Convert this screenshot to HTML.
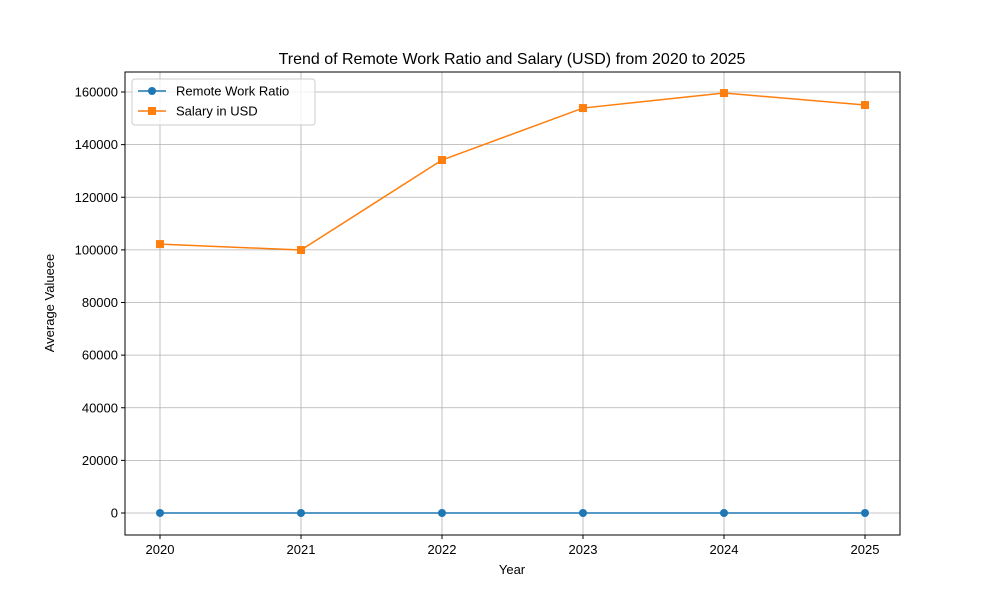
<!DOCTYPE html>
<html><head><meta charset="utf-8"><style>
body{margin:0;background:#fff;font-family:"Liberation Sans","DejaVu Sans",sans-serif}
</style></head><body>
<svg id="chart" width="1000" height="600" xmlns="http://www.w3.org/2000/svg"></svg>
<script>
const years=[2020,2021,2022,2023,2024,2025];
const remoteRatio=[0.5,0.5,0.5,0.5,0.5,0.5];
const salary=[102200,99950,134150,153900,159600,155050];
const yTicks=[0,20000,40000,60000,80000,100000,120000,140000,160000];
const L=125,R=900,T=72,B=535,yMin=-8361,yMax=167601;
const xs=v=>160+(v-2020)*141;
const ys=v=>B-(v-yMin)/(yMax-yMin)*(B-T);
const svg=document.getElementById('chart');
const NS='http://www.w3.org/2000/svg';
function mk(t,a,txt){const e=document.createElementNS(NS,t);for(const k in a)e.setAttribute(k,a[k]);if(txt!=null)e.textContent=txt;svg.appendChild(e);return e;}
years.forEach(y=>{
 const g=mk('line',{x1:xs(y),x2:xs(y),y1:T,y2:B,stroke:'#b0b0b0','stroke-width':0.8});
 
 
 mk('line',{x1:xs(y),x2:xs(y),y1:B,y2:B+4,stroke:'#000'});
 const t=mk('text',{x:xs(y),y:B+19,'text-anchor':'middle','font-size':13},y);
 
 
});
yTicks.forEach(v=>{
 const g=mk('line',{x1:L,x2:R,y1:ys(v),y2:ys(v),stroke:'#b0b0b0','stroke-width':0.8});
 
 
 mk('line',{x1:L-4,x2:L,y1:ys(v),y2:ys(v),stroke:'#000'});
 const t=mk('text',{x:L-7,y:ys(v)+4.5,'text-anchor':'end','font-size':13},v);
 
 
});
const fr=mk('rect',{x:L,y:T,width:R-L,height:B-T,fill:'none',stroke:'#000','stroke-width':1});


function series(vals,color,shape,name){
 const p=mk('polyline',{points:vals.map((v,i)=>xs(years[i])+','+ys(v)).join(' '),fill:'none',stroke:color,'stroke-width':1.5});
 
 
 vals.forEach((v,i)=>{
  let m;
  if(shape==='c')m=mk('circle',{cx:xs(years[i]),cy:ys(v),r:4,fill:color});
  else m=mk('rect',{x:xs(years[i])-4,y:ys(v)-4,width:8,height:8,fill:color});
  
  
 });
}
series(remoteRatio,'#1f77b4','c','remote-ratio');
series(salary,'#ff7f0e','s','salary');
const ti=mk('text',{x:512,y:64,'text-anchor':'middle','font-size':16},'Trend of Remote Work Ratio and Salary (USD) from 2020 to 2025');


const xl=mk('text',{x:512,y:574,'text-anchor':'middle','font-size':13},'Year');


const yl=mk('text',{x:54,y:303,'text-anchor':'middle','font-size':13,transform:'rotate(-90 54 303)'},'Average Valueee');


const lg=mk('rect',{x:132,y:79,width:183,height:46,rx:3,fill:'#fff','fill-opacity':0.8,stroke:'#ccc'});


[['Remote Work Ratio','#1f77b4','c',91],['Salary in USD','#ff7f0e','s',111]].forEach(([n,c,s,y])=>{
 mk('line',{x1:138,x2:166,y1:y,y2:y,stroke:c,'stroke-width':1.5});
 if(s==='c')mk('circle',{cx:152,cy:y,r:4,fill:c});else mk('rect',{x:148,y:y-4,width:8,height:8,fill:c});
 const t=mk('text',{x:176,y:y+4.5,'font-size':13},n);
 
 
});
</script>
</body></html>
